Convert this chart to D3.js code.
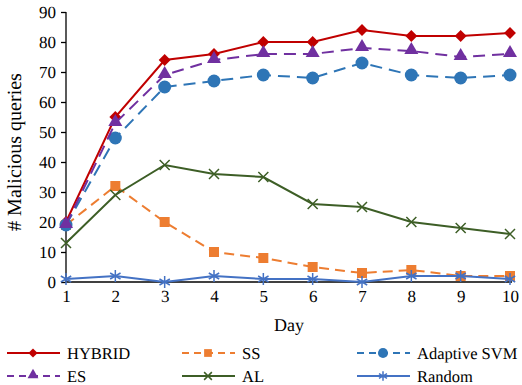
<!DOCTYPE html>
<html>
<head>
<meta charset="utf-8">
<script src="https://cdn.jsdelivr.net/npm/d3@7"></script>
<style>
  body { margin: 0; background: #fff; }
  svg { text-rendering: geometricPrecision; }
</style>
</head>
<body>
<div id="chart"></div>
<script>
// data
var days = [1, 2, 3, 4, 5, 6, 7, 8, 9, 10];
var yTicks = [0, 10, 20, 30, 40, 50, 60, 70, 80, 90];
var hybrid = [20, 55, 74, 76, 80, 80, 84, 82, 82, 83];
var ss = [19, 32, 20, 10, 8, 5, 3, 4, 2, 2];
var adaptiveSvm = [19, 48, 65, 67, 69, 68, 73, 69, 68, 69];
var es = [19, 53, 69, 74, 76, 76, 78, 77, 75, 76];
var al = [13, 29, 39, 36, 35, 26, 25, 20, 18, 16];
var random = [1, 2, 0, 2, 1, 1, 0, 2, 2, 1];

var series = [
  { name: "HYBRID", values: hybrid, color: "#c00000", dash: null, marker: "diamond" },
  { name: "SS", values: ss, color: "#ed7d31", dash: "10,6", marker: "square" },
  { name: "Adaptive SVM", values: adaptiveSvm, color: "#2e75b6", dash: "12,7", marker: "circle" },
  { name: "ES", values: es, color: "#7030a0", dash: "12,7", marker: "triangle" },
  { name: "AL", values: al, color: "#3d5e26", dash: null, marker: "x" },
  { name: "Random", values: random, color: "#4472c4", dash: null, marker: "star" }
];

var FONT = "Liberation Serif";
var width = 522, height = 385;
var margin = { top: 12, right: 12, bottom: 103, left: 66 };

var svg = d3.select("#chart").append("svg")
  .attr("width", width)
  .attr("height", height)
  .attr("font-family", FONT);

var x = d3.scaleLinear().domain([1, 10]).range([margin.left, 510]);
var y = d3.scaleLinear().domain([0, 90]).range([282, 12]);

// y axis
var yAxis = svg.append("g")
  .attr("transform", "translate(" + margin.left + ",0)")
  .call(d3.axisLeft(y).tickValues(yTicks).tickSize(5).tickPadding(5));
yAxis.attr("font-family", FONT).attr("font-size", 17);
yAxis.select(".domain").attr("stroke", "#000").attr("stroke-width", 1.3).attr("d", "M0,12V282");
yAxis.selectAll(".tick line").attr("stroke", "#000").attr("stroke-width", 1.3);
yAxis.selectAll("text").attr("fill", "#000");

// x axis
var xAxis = svg.append("g")
  .attr("transform", "translate(0,282)")
  .call(d3.axisBottom(x).tickValues(days).tickSize(0).tickPadding(8));
xAxis.attr("font-family", FONT).attr("font-size", 17);
xAxis.select(".domain").attr("stroke", "#000").attr("stroke-width", 1.3).attr("d", "M66,0H512");
xAxis.selectAll("text").attr("fill", "#000");

// axis titles
svg.append("text")
  .attr("transform", "translate(21,152) rotate(-90)")
  .attr("text-anchor", "middle")
  .attr("font-family", FONT)
  .attr("font-size", 20)
  .text("# Malicious queries");

svg.append("text")
  .attr("x", 289)
  .attr("y", 331)
  .attr("text-anchor", "middle")
  .attr("font-family", FONT)
  .attr("font-size", 18)
  .text("Day");

function drawMarker(g, type, color, size) {
  var s = size || 1;
  if (type === "diamond") {
    g.append("path").attr("d", d3.symbol().type(d3.symbolDiamond2).size(90 * s)).attr("fill", color);
  } else if (type === "square") {
    g.append("path").attr("d", d3.symbol().type(d3.symbolSquare).size(100 * s)).attr("fill", color);
  } else if (type === "circle") {
    g.append("circle").attr("r", 6.5 * Math.sqrt(s)).attr("fill", color);
  } else if (type === "triangle") {
    g.append("path").attr("d", d3.symbol().type(d3.symbolTriangle).size(85 * s)).attr("fill", color)
      .attr("transform", "translate(0,-1)");
  } else if (type === "x") {
    var r = 5 * Math.sqrt(s);
    g.append("path").attr("d", "M" + -r + "," + -r + "L" + r + "," + r + "M" + -r + "," + r + "L" + r + "," + -r)
      .attr("stroke", color).attr("stroke-width", 1.5).attr("fill", "none");
  } else if (type === "star") {
    var r2 = 6 * Math.sqrt(s);
    var d = "M0," + -r2 + "V" + r2;
    [30, 150].forEach(function(a) {
      var rad = a * Math.PI / 180;
      d += "M" + (-r2 * Math.cos(rad)) + "," + (-r2 * Math.sin(rad)) + "L" + (r2 * Math.cos(rad)) + "," + (r2 * Math.sin(rad));
    });
    g.append("path").attr("d", d).attr("stroke", color).attr("stroke-width", 1.5).attr("fill", "none");
  }
}

var line = d3.line()
  .x(function(d, i) { return x(days[i]); })
  .y(function(d) { return y(d); });

var plot = svg.append("g");

series.forEach(function(s) {
  var g = plot.append("g");
  g.append("path")
    .datum(s.values)
    .attr("d", line)
    .attr("fill", "none")
    .attr("stroke", s.color)
    .attr("stroke-width", 2)
    .attr("stroke-dasharray", s.dash);

  g.selectAll(".pt")
    .data(s.values)
    .enter()
    .append("g")
    .attr("class", "pt")
    .attr("transform", function(d, i) { return "translate(" + x(days[i]) + "," + y(d) + ")"; })
    .each(function() { drawMarker(d3.select(this), s.marker, s.color); });
});

// legend
var legendCols = [7, 182, 357];
var legendRows = [353, 376];
var legend = svg.append("g");
series.forEach(function(s, i) {
  var lx = legendCols[i % 3], ly = legendRows[Math.floor(i / 3)];
  var g = legend.append("g").attr("transform", "translate(" + lx + "," + ly + ")");
  g.append("line")
    .attr("x1", 0).attr("x2", 53).attr("y1", 0).attr("y2", 0)
    .attr("stroke", s.color).attr("stroke-width", 2)
    .attr("stroke-dasharray", s.dash ? "7,5" : null);
  drawMarker(g.append("g").attr("transform", "translate(26,0)"), s.marker, s.color, 0.6);
  g.append("text")
    .attr("x", 60).attr("y", 6)
    .attr("font-family", FONT)
    .attr("font-size", 16.5)
    .text(s.name);
});
</script>
</body>
</html>
